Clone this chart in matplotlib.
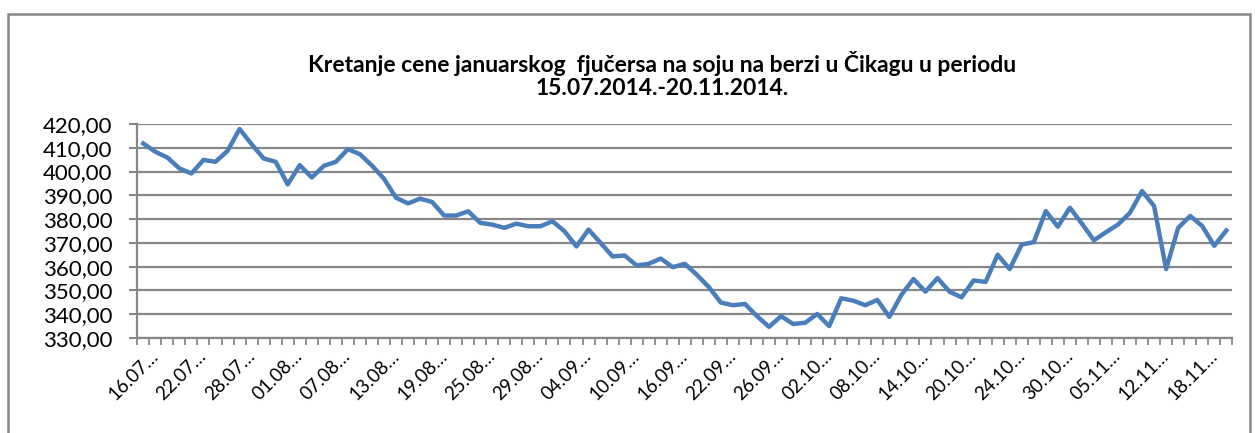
import numpy as np
import matplotlib
matplotlib.use("Agg")
import matplotlib.pyplot as plt
from matplotlib.patches import Rectangle
from matplotlib.ticker import FuncFormatter

plt.rcParams['font.family'] = ['Lato', 'DejaVu Sans']

title = ("Kretanje cene januarskog  fjučersa na soju na berzi u Čikagu u periodu\n"
         "15.07.2014.-20.11.2014.")

# trading days (CBOT), one per category on the x axis
dates = [
    "15.07.2014", "16.07.2014", "17.07.2014", "18.07.2014", "21.07.2014",
    "22.07.2014", "23.07.2014", "24.07.2014", "25.07.2014", "28.07.2014",
    "29.07.2014", "30.07.2014", "31.07.2014",
    "01.08.2014", "04.08.2014", "05.08.2014", "06.08.2014", "07.08.2014",
    "08.08.2014", "11.08.2014", "12.08.2014", "13.08.2014", "14.08.2014",
    "15.08.2014", "18.08.2014", "19.08.2014", "20.08.2014", "21.08.2014",
    "22.08.2014", "25.08.2014", "26.08.2014", "27.08.2014", "28.08.2014",
    "29.08.2014",
    "01.09.2014", "02.09.2014", "03.09.2014", "04.09.2014", "05.09.2014",
    "08.09.2014", "09.09.2014", "10.09.2014", "11.09.2014", "12.09.2014",
    "15.09.2014", "16.09.2014", "17.09.2014", "18.09.2014", "19.09.2014",
    "22.09.2014", "23.09.2014", "24.09.2014", "25.09.2014", "26.09.2014",
    "29.09.2014", "30.09.2014",
    "01.10.2014", "02.10.2014", "03.10.2014", "06.10.2014", "07.10.2014",
    "08.10.2014", "09.10.2014", "10.10.2014", "13.10.2014", "14.10.2014",
    "15.10.2014", "16.10.2014", "17.10.2014", "20.10.2014", "21.10.2014",
    "22.10.2014", "23.10.2014", "24.10.2014", "27.10.2014", "28.10.2014",
    "29.10.2014", "30.10.2014", "31.10.2014",
    "03.11.2014", "04.11.2014", "05.11.2014", "06.11.2014", "07.11.2014",
    "10.11.2014", "12.11.2014", "13.11.2014", "14.11.2014", "17.11.2014",
    "18.11.2014", "20.11.2014",
]

prices = [
    411.8, 408.3, 405.9, 401.3, 399.2, 404.9, 404.1, 408.7, 417.9, 411.5,
    405.5, 404.1, 394.6, 402.7, 397.5, 402.4, 404.1, 409.4, 407.3, 402.5,
    397.0, 389.0, 386.6, 388.6, 387.2, 381.5, 381.5, 383.3, 378.4, 377.7,
    376.3, 378.1, 377.0, 377.0, 379.1, 374.9, 368.5, 375.6, 370.0, 364.3,
    364.7, 360.5, 361.2, 363.4, 359.8, 361.2, 356.6, 351.4, 344.9, 343.8,
    344.3, 339.2, 334.7, 339.2, 335.9, 336.4, 340.1, 335.0, 346.7, 345.7,
    343.8, 346.0, 338.9, 348.1, 354.8, 349.5, 355.2, 349.5, 347.1, 354.2,
    353.6, 365.0, 359.0, 369.3, 370.3, 383.4, 376.8, 384.8, 378.1, 371.1,
    374.5, 377.7, 382.7, 391.8, 385.5, 359.0, 376.3, 381.3, 377.1, 368.8,
    375.2,
]

y_ticks = [330, 340, 350, 360, 370, 380, 390, 400, 410, 420]

W, H = 1255, 433
fig = plt.figure(figsize=(W / 100, H / 100), dpi=100)
ax = fig.add_axes([137.3 / W, 1 - 338 / H, (1232.3 - 137.3) / W, (338 - 124) / H])

grey = '#878787'
n = len(prices)
x = np.arange(n)
ax.plot(x, prices, color='#4A7EBB', lw=3.2, solid_joinstyle='round', zorder=3)

ax.set_xlim(-0.5, n - 0.5)
ax.set_ylim(y_ticks[0], y_ticks[-1])
ax.set_yticks(y_ticks)
ax.yaxis.set_major_formatter(FuncFormatter(lambda v, p: f"{v:.2f}".replace('.', ',')))
ax.grid(axis='y', color=grey, lw=1.6, zorder=1)

lab_idx = list(range(1, n, 4))
ax.set_xticks(lab_idx)
ax.set_xticklabels([dates[i][:5] + '…' for i in lab_idx],
                   rotation=45, ha='right', va='center', rotation_mode='anchor')
ax.set_xticks(np.arange(-0.5, n, 1), minor=True)

ax.tick_params(axis='x', which='major', length=0, pad=11, labelsize=13.5)
ax.tick_params(axis='x', which='minor', length=5, width=1.3, color=grey)
ax.tick_params(axis='y', length=6, width=1.5, color=grey, pad=12, labelsize=16)

for s in ['top', 'right']:
    ax.spines[s].set_visible(False)
for s in ['left', 'bottom']:
    ax.spines[s].set_color(grey)
    ax.spines[s].set_linewidth(1.6)

fig.text(662 / W, 1 - 75 / H, title, ha='center', va='center',
         fontsize=16.5, fontweight='bold', linespacing=1.1)

fig.patches.append(Rectangle((8 / W, -0.1), (1250 - 8) / W, 1.1 - 14 / H,
                             transform=fig.transFigure, fill=False,
                             ec=grey, lw=1.8))

fig.savefig('out.png', dpi=100)
